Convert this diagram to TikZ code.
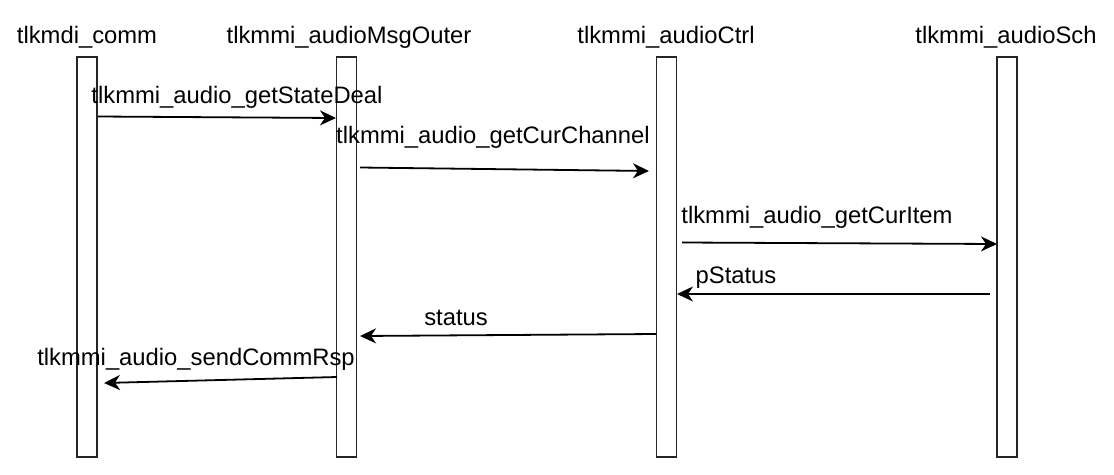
\documentclass[tikz,border=0pt]{standalone}
\usepackage{fontspec}
\setmainfont{Liberation Sans}
\usetikzlibrary{arrows.meta}
\begin{document}
\begin{tikzpicture}[x=1pt,y=-1pt,
  lifebar/.style={draw=black!85, line width=1.6pt, minimum width=20pt, minimum height=400pt, inner sep=0pt, anchor=north},
  title/.style={font=\fontsize{23.8}{28}\selectfont, anchor=base, inner sep=0pt},
  msg/.style={line width=1.8pt, -{Stealth[length=16pt,width=15pt,inset=5pt]}},
  lbl/.style={font=\fontsize{23.8}{28}\selectfont, anchor=base, inner sep=0pt}]
\useasboundingbox (0,0) rectangle (1114,474);
% lifelines
\node[lifebar] (b1) at (87,56) {};
\node[lifebar] (b2) at (346.5,56) {};
\node[lifebar] (b3) at (666.5,56) {};
\node[lifebar] (b4) at (1007,56) {};
% titles
\node[title] (t1) at (87,43) {tlkmdi\_comm};
\node[title] (t2) at (349,43) {tlkmmi\_audioMsgOuter};
\node[title] (t3) at (666,43) {tlkmmi\_audioCtrl};
\node[title] (t4) at (1006,43) {tlkmmi\_audioSch};
% message end points
\coordinate (m1s) at (98,116.5);
\coordinate (m1e) at (336,118);
\coordinate (m2s) at (360,167.5);
\coordinate (m2e) at (649,171);
\coordinate (m3s) at (682,242.5);
\coordinate (m3e) at (997,244);
\coordinate (m4s) at (990,294);
\coordinate (m4e) at (677,294);
\coordinate (m5s) at (656,334);
\coordinate (m5e) at (360,336);
\coordinate (m6s) at (337,377);
\coordinate (m6e) at (104,383);
% messages
\draw[msg] (m1s) -- (m1e);
\draw[msg] (m2s) -- (m2e);
\draw[msg] (m3s) -- (m3e);
\draw[msg] (m4s) -- (m4e);
\draw[msg] (m5s) -- (m5e);
\draw[msg] (m6s) -- (m6e);
% labels
\node[lbl] (l1) at (237,103) {tlkmmi\_audio\_getStateDeal};
\node[lbl] (l2) at (493,143) {tlkmmi\_audio\_getCurChannel};
\node[lbl] (l3) at (817,223) {tlkmmi\_audio\_getCurItem};
\node[lbl] (l4) at (736,283) {pStatus};
\node[lbl] (l5) at (456,325) {status};
\node[lbl] (l6) at (196,365) {tlkmmi\_audio\_sendCommRsp};
\end{tikzpicture}
\end{document}
